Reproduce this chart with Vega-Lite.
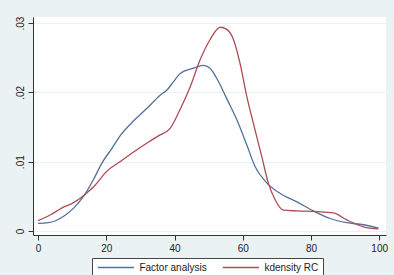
{
  "$schema": "https://vega.github.io/schema/vega-lite/v6.json",
  "width": 353,
  "height": 218,
  "autosize": {"type": "none"},
  "padding": {"left": 33, "top": 17, "right": 8, "bottom": 40},
  "background": "#EAF2F3",
  "config": {
    "view": {"fill": "white", "stroke": null},
    "font": "Liberation Sans"
  },
  "data": {"values": [
    {"series": "Factor analysis", "x": 0, "y": 0.0011},
    {"series": "Factor analysis", "x": 3, "y": 0.0012},
    {"series": "Factor analysis", "x": 7.4, "y": 0.0021},
    {"series": "Factor analysis", "x": 10.4, "y": 0.0033},
    {"series": "Factor analysis", "x": 13.3, "y": 0.005},
    {"series": "Factor analysis", "x": 16.2, "y": 0.0074},
    {"series": "Factor analysis", "x": 18.7, "y": 0.0098},
    {"series": "Factor analysis", "x": 21.6, "y": 0.0119},
    {"series": "Factor analysis", "x": 24.3, "y": 0.0139},
    {"series": "Factor analysis", "x": 28, "y": 0.0159},
    {"series": "Factor analysis", "x": 31.9, "y": 0.0177},
    {"series": "Factor analysis", "x": 35.8, "y": 0.0196},
    {"series": "Factor analysis", "x": 37.7, "y": 0.0203},
    {"series": "Factor analysis", "x": 39.5, "y": 0.0214},
    {"series": "Factor analysis", "x": 41.6, "y": 0.0227},
    {"series": "Factor analysis", "x": 45.5, "y": 0.0235},
    {"series": "Factor analysis", "x": 48.5, "y": 0.0239},
    {"series": "Factor analysis", "x": 50.4, "y": 0.0235},
    {"series": "Factor analysis", "x": 52.4, "y": 0.022},
    {"series": "Factor analysis", "x": 55.3, "y": 0.0191},
    {"series": "Factor analysis", "x": 58.3, "y": 0.016},
    {"series": "Factor analysis", "x": 61.2, "y": 0.0124},
    {"series": "Factor analysis", "x": 63.6, "y": 0.0093},
    {"series": "Factor analysis", "x": 67.1, "y": 0.0069},
    {"series": "Factor analysis", "x": 71, "y": 0.0054},
    {"series": "Factor analysis", "x": 75.9, "y": 0.0042},
    {"series": "Factor analysis", "x": 80.7, "y": 0.0029},
    {"series": "Factor analysis", "x": 85.6, "y": 0.0018},
    {"series": "Factor analysis", "x": 90.5, "y": 0.0012},
    {"series": "Factor analysis", "x": 95.4, "y": 0.0009},
    {"series": "Factor analysis", "x": 99.8, "y": 0.0004},
    {"series": "kdensity RC", "x": 0, "y": 0.0015},
    {"series": "kdensity RC", "x": 3.5, "y": 0.0023},
    {"series": "kdensity RC", "x": 6.9, "y": 0.0033},
    {"series": "kdensity RC", "x": 10.4, "y": 0.0041},
    {"series": "kdensity RC", "x": 13.3, "y": 0.0051},
    {"series": "kdensity RC", "x": 16.7, "y": 0.0066},
    {"series": "kdensity RC", "x": 20.1, "y": 0.0086},
    {"series": "kdensity RC", "x": 24, "y": 0.01},
    {"series": "kdensity RC", "x": 28, "y": 0.0114},
    {"series": "kdensity RC", "x": 32.3, "y": 0.0128},
    {"series": "kdensity RC", "x": 35.5, "y": 0.0138},
    {"series": "kdensity RC", "x": 38.7, "y": 0.0148},
    {"series": "kdensity RC", "x": 41.6, "y": 0.0175},
    {"series": "kdensity RC", "x": 44.6, "y": 0.0208},
    {"series": "kdensity RC", "x": 47.5, "y": 0.0247},
    {"series": "kdensity RC", "x": 50.4, "y": 0.0276},
    {"series": "kdensity RC", "x": 53.4, "y": 0.0294},
    {"series": "kdensity RC", "x": 55.3, "y": 0.0291},
    {"series": "kdensity RC", "x": 57.3, "y": 0.0276},
    {"series": "kdensity RC", "x": 59.2, "y": 0.0242},
    {"series": "kdensity RC", "x": 61.2, "y": 0.0194},
    {"series": "kdensity RC", "x": 63.6, "y": 0.0146},
    {"series": "kdensity RC", "x": 65.6, "y": 0.0107},
    {"series": "kdensity RC", "x": 67.5, "y": 0.0069},
    {"series": "kdensity RC", "x": 69.5, "y": 0.0045},
    {"series": "kdensity RC", "x": 71.9, "y": 0.003},
    {"series": "kdensity RC", "x": 75.9, "y": 0.0029},
    {"series": "kdensity RC", "x": 81.7, "y": 0.0028},
    {"series": "kdensity RC", "x": 86.6, "y": 0.0026},
    {"series": "kdensity RC", "x": 90.5, "y": 0.0016},
    {"series": "kdensity RC", "x": 95.4, "y": 0.0006},
    {"series": "kdensity RC", "x": 99.8, "y": 0.0003}
  ]},
  "mark": {"type": "line", "interpolate": "monotone", "strokeWidth": 1.3, "clip": true},
  "encoding": {
    "x": {
      "field": "x", "type": "quantitative",
      "scale": {"domain": [-1.5, 102], "nice": false, "zero": false},
      "axis": {
        "title": null, "values": [0, 20, 40, 60, 80, 100], "grid": false,
        "domainColor": "#333333", "tickColor": "#333333", "tickSize": 5,
        "labelFontSize": 10, "labelColor": "#222222", "labelPadding": 3
      }
    },
    "y": {
      "field": "y", "type": "quantitative",
      "scale": {"domain": [-0.00058, 0.03088], "nice": false, "zero": false},
      "axis": {
        "title": null, "values": [0, 0.01, 0.02, 0.03],
        "labelExpr": "datum.value == 0 ? '0' : replace(format(datum.value, '.2f'), '0.', '.')",
        "grid": true, "gridColor": "#EAF2F3", "gridWidth": 1,
        "domainColor": "#333333", "tickColor": "#333333", "tickSize": 5,
        "labelAngle": -90, "labelAlign": "center", "labelBaseline": "bottom",
        "labelFontSize": 10, "labelColor": "#222222", "labelPadding": 3
      }
    },
    "color": {
      "field": "series", "type": "nominal",
      "scale": {"domain": ["Factor analysis", "kdensity RC"], "range": ["#52709A", "#AE4C55"]},
      "legend": {
        "title": null, "orient": "none", "legendX": 59, "legendY": 241,
        "direction": "horizontal", "symbolType": "M-5,0H5", "symbolSize": 52,
        "symbolOffset": 14.4,
        "symbolStrokeWidth": 1.3, "labelFontSize": 10, "labelColor": "#222222",
        "labelOffset": 18.5, "columnPadding": 12, "padding": 4.5,
        "fillColor": "white", "strokeColor": "#444444"
      }
    }
  }
}
